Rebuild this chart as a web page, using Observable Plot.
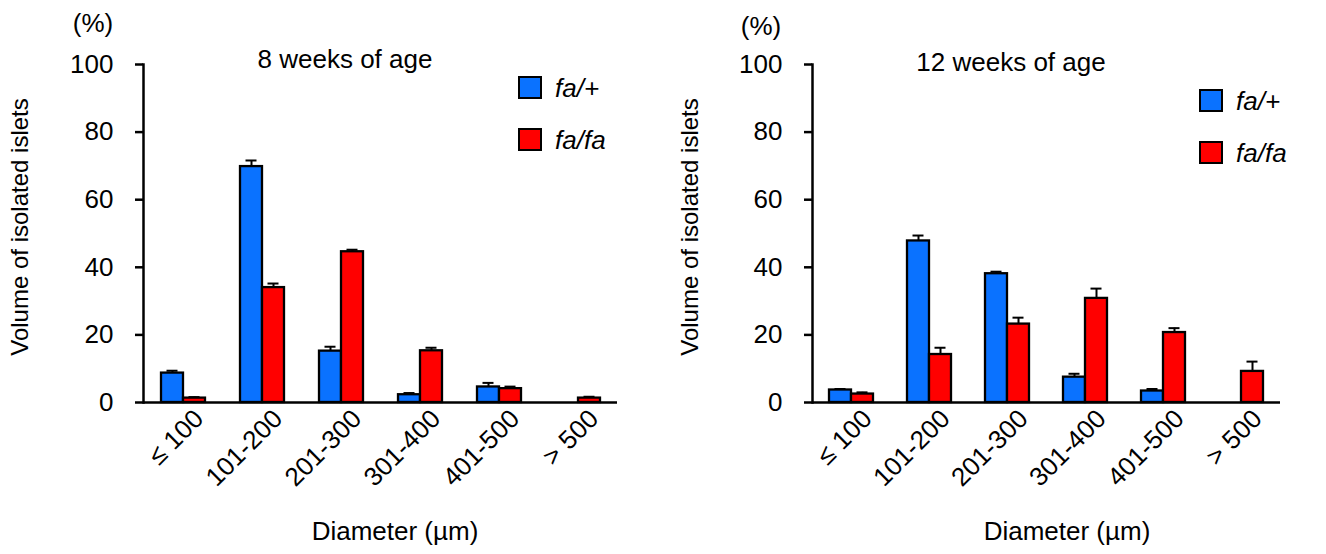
<!DOCTYPE html>
<html>
<head>
<meta charset="utf-8">
<script src="https://cdn.jsdelivr.net/npm/d3@7"></script>
<script src="https://cdn.jsdelivr.net/npm/@observablehq/plot@0.6"></script>
<style>
  html, body { margin: 0; padding: 0; background: #fff; }
  body { font-family: "Liberation Sans", Arial, sans-serif; color: #000; }
  #wrap { display: flex; width: 1326px; height: 554px; overflow: hidden; }
  .panel { position: relative; height: 554px; }
  .panel svg { display: block; }
  .txt { position: absolute; font-size: 26px; line-height: 26px; white-space: nowrap; }
  .center { transform: translateX(-50%); }
  .ytitle { font-size: 24px; line-height: 24px; transform: translate(-50%, -50%) rotate(-90deg); }
  .swatch { position: absolute; width: 20px; height: 19px; border: 2px solid #000; }
  .lg { font-style: italic; }
</style>
</head>
<body>
<div id="wrap"></div>
<script>
// Islet diameter classes (µm) and genotypes
const diameters = ["≤ 100", "101-200", "201-300", "301-400", "401-500", "> 500"];
const genotypes = ["fa/+", "fa/fa"];
const genotypeColors = ["#0a72ff", "#ff0000"];
const yTicks = [0, 20, 40, 60, 80, 100];

// 8 weeks of age: mean volume share (%) and SEM
const week8Lean = [8.7, 69.8, 15.2, 2.3, 4.6, 0];
const week8LeanSem = [0.7, 1.8, 1.3, 0.5, 1.2, 0];
const week8Fatty = [1.3, 34.0, 44.6, 15.3, 4.1, 1.3];
const week8FattySem = [0.3, 1.2, 0.6, 0.9, 0.6, 0.4];

// 12 weeks of age: mean volume share (%) and SEM
const week12Lean = [3.7, 47.8, 38.1, 7.5, 3.4, 0];
const week12LeanSem = [0.3, 1.6, 0.6, 1.0, 0.6, 0];
const week12Fatty = [2.5, 14.2, 23.2, 30.8, 20.7, 9.2];
const week12FattySem = [0.5, 2.0, 1.9, 2.9, 1.3, 2.9];

const font = "'Liberation Sans', Arial, sans-serif";

const panels = [
  {
    title: "8 weeks of age",
    series: [[week8Lean, week8LeanSem], [week8Fatty, week8FattySem]],
    width: 669, marginRight: 50,
    titleX: 345, titleY: 46,
    pctX: 93, pctY: 10,
    legendX: 518, legendY: [76, 128],
    yTitleX: 20, xTitleX: 395
  },
  {
    title: "12 weeks of age",
    series: [[week12Lean, week12LeanSem], [week12Fatty, week12FattySem]],
    width: 657, marginRight: 45,
    titleX: 342, titleY: 49,
    pctX: 92, pctY: 13,
    legendX: 530, legendY: [89, 141],
    yTitleX: 21, xTitleX: 398
  }
];

const wrap = document.getElementById("wrap");

for (const p of panels) {
  const rows = [];
  diameters.forEach((d, i) => {
    genotypes.forEach((g, j) => {
      rows.push({diameter: d, genotype: g, value: p.series[j][0][i], sem: p.series[j][1][i]});
    });
  });
  const withErr = rows.filter(d => d.sem > 0);

  const chart = Plot.plot({
    width: p.width,
    height: 554,
    marginLeft: 141,
    marginRight: p.marginRight,
    marginTop: 64,
    marginBottom: 152,
    style: {fontFamily: font, fontSize: "26px", color: "#000", background: "transparent", overflow: "visible"},
    fx: {domain: diameters, padding: 0, label: null},
    x: {domain: genotypes, paddingInner: 0, paddingOuter: 0.73, axis: null},
    y: {domain: [0, 100], axis: null},
    color: {domain: genotypes, range: genotypeColors},
    marks: [
      Plot.barY(rows, {fx: "diameter", x: "genotype", y: "value", fill: "genotype", stroke: "#000", strokeWidth: 2.3}),
      Plot.ruleX(withErr, {fx: "diameter", x: "genotype", y1: "value", y2: d => d.value + d.sem, stroke: "#000", strokeWidth: 2}),
      Plot.tickY(withErr, {fx: "diameter", x: "genotype", y: d => d.value + d.sem, inset: 5.5, stroke: "#000", strokeWidth: 2}),
      Plot.ruleY([0], {stroke: "#000", strokeWidth: 2.5}),
      Plot.frame({anchor: "left", facetAnchor: "left", stroke: "#000", strokeWidth: 2.5}),
      Plot.axisY({ticks: yTicks, tickSize: 8, tickPadding: 22, strokeWidth: 2.5, label: null, fontSize: 26}),
      Plot.axisFx({anchor: "bottom", tickSize: 0, tickRotate: -45, tickPadding: 12, dx: 16, label: null, fontSize: 26})
    ]
  });

  const panel = document.createElement("div");
  panel.className = "panel";
  panel.style.width = p.width + "px";
  panel.appendChild(chart);

  const addText = (text, cls, x, y) => {
    const el = document.createElement("div");
    el.className = "txt " + cls;
    el.textContent = text;
    el.style.left = x + "px";
    el.style.top = y + "px";
    panel.appendChild(el);
    return el;
  };

  addText("(%)", "center", p.pctX, p.pctY);
  addText(p.title, "center", p.titleX, p.titleY);
  addText("Volume of isolated islets", "ytitle", p.yTitleX, 227);
  addText("Diameter (µm)", "center", p.xTitleX, 518);

  genotypes.forEach((g, j) => {
    const sw = document.createElement("div");
    sw.className = "swatch";
    sw.style.left = p.legendX + "px";
    sw.style.top = p.legendY[j] + "px";
    sw.style.background = genotypeColors[j];
    panel.appendChild(sw);
    addText(g, "lg", p.legendX + 37, p.legendY[j] - 1);
  });

  wrap.appendChild(panel);
}
</script>
</body>
</html>
